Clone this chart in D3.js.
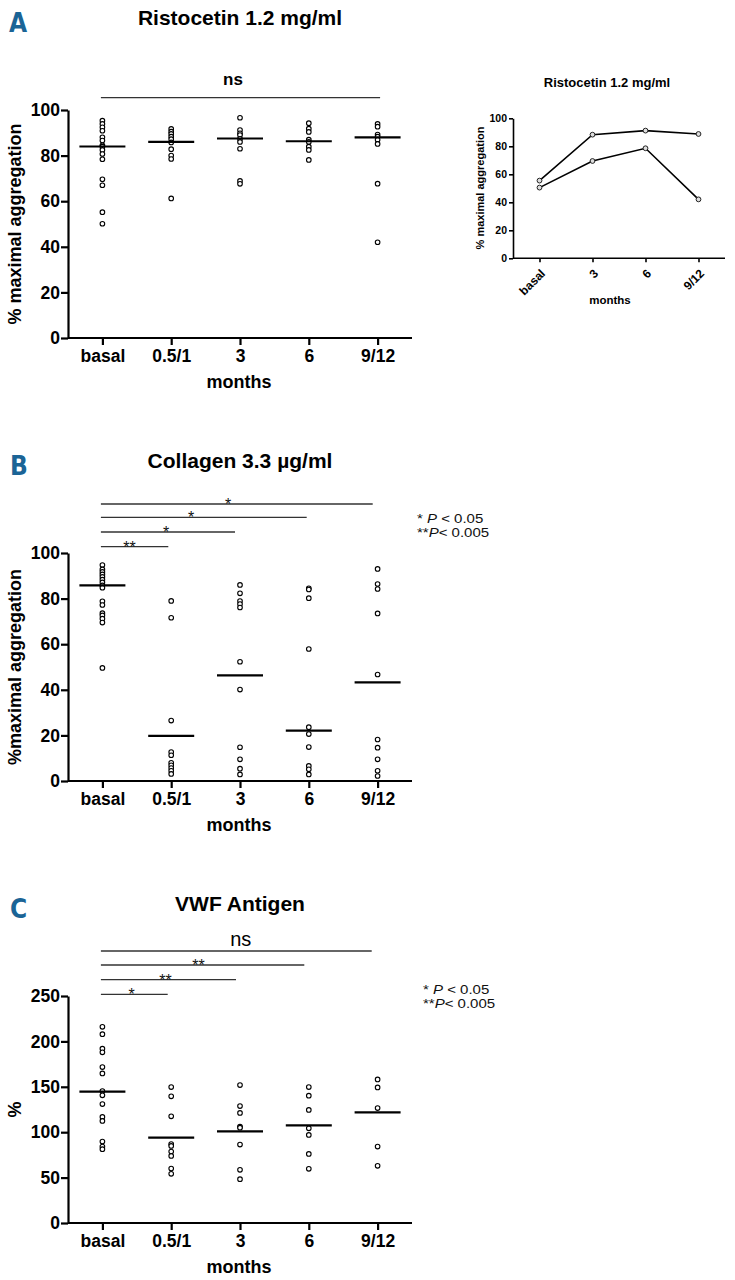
<!DOCTYPE html>
<html>
<head>
<meta charset="utf-8">
<script src="https://cdn.jsdelivr.net/npm/d3@7"></script>
<style>
  body { margin: 0; background: #fff; }
  svg { display: block; }
  text { font-family: "Liberation Sans", Arial, sans-serif; fill: #000; }
</style>
</head>
<body>
<div id="chart"></div>
<script>
// ---- data ----
var months = ["basal", "0.5/1", "3", "6", "9/12"];

// A: Ristocetin 1.2 mg/ml (% maximal aggregation)
var ristoDots = [
  [95.3, 93.9, 92.4, 90.9, 88, 86.6, 84.5, 83.9, 82.5, 80.7, 78.4, 69.6, 67, 55.2, 50.1],
  [91.7, 90.5, 89.5, 88.3, 87.2, 85.8, 82.8, 80, 78.5, 61.2],
  [96.6, 91.2, 89.8, 89, 87.4, 86, 83, 68.9, 67.6],
  [94.2, 91.8, 90.4, 87, 86, 83.9, 82.5, 78.1],
  [93.9, 92.7, 89.2, 88.3, 86.9, 85.1, 67.7, 42]
];
var ristoMedians = [84, 86, 87.5, 86.3, 88];

// A inset: two patients followed over time
var insetMonths = ["basal", "3", "6", "9/12"];
var insetUpper = [55.5, 88.3, 91.2, 88.8];
var insetLower = [50.5, 69.5, 78.6, 42.1];

// B: Collagen 3.3 µg/ml
var collDots = [
  [94.7, 92.8, 91.7, 90.6, 89.5, 88.3, 87.1, 85.8, 84.8, 78.8, 77.2, 73.6, 72.6, 71.2, 69.5, 49.6],
  [79, 71.6, 26.5, 12.7, 11.3, 8, 6.9, 5.7, 4.5, 3.1],
  [86, 82.3, 78.9, 77.6, 76.1, 52.3, 40.1, 14.8, 9.5, 5.4, 2.9],
  [84.5, 84, 80.2, 57.9, 23.6, 20.6, 14.9, 6.6, 5.1, 2.9],
  [93, 86.4, 84.2, 73.5, 46.7, 18.2, 14.6, 9.5, 4.5, 2.2]
];
var collMedians = [85.8, 19.8, 46.3, 22.1, 43.3];

// C: VWF Antigen (%)
var vwfDots = [
  [216, 208, 192, 188, 171.7, 164.7, 145.3, 140.6, 131, 116.8, 112.4, 89.7, 84.2, 81.3],
  [149.7, 139.5, 117.5, 87, 84.9, 78.7, 73.9, 60, 54.2],
  [151.9, 128.8, 121.2, 106.1, 105, 86.4, 58.6, 48.3],
  [149.7, 140.2, 124.5, 104.3, 97, 76.1, 59.7],
  [158.1, 149.3, 126.6, 84.2, 63]
];
var vwfMedians = [144.6, 94, 101, 107.6, 121.9];

// significance brackets: basal vs. months[i+1]
var ristoSig = ["", "", "", "ns"];
var collSig = ["**", "*", "*", "*"];
var vwfSig = ["*", "**", "**", "ns"];

var ticks100 = [0, 20, 40, 60, 80, 100];
var ticks250 = [0, 50, 100, 150, 200, 250];

// ---- drawing ----
var svg = d3.select("#chart").append("svg")
    .attr("width", 735)
    .attr("height", 1280);

function panelLetter(letter, x, y) {
  svg.append("text")
      .attr("x", x).attr("y", y)
      .style("font-family", "'Liberation Sans Narrow', 'DejaVu Sans Condensed', sans-serif")
      .style("font-weight", "bold")
      .style("font-size", "26px")
      .style("fill", "#1b6496")
      .text(letter);
}

function dotPanel(opt) {
  var x = d3.scalePoint().domain(months).range([68, 412]).padding(0.5);
  var y = d3.scaleLinear().domain(opt.domain).range([opt.bottom, opt.top]);
  var g = svg.append("g");

  // title
  g.append("text")
      .attr("x", 240).attr("y", opt.titleY)
      .attr("text-anchor", "middle")
      .style("font-weight", "bold").style("font-size", "21px")
      .text(opt.title);

  // axes
  var yAxis = g.append("g")
      .attr("transform", "translate(68,0)")
      .call(d3.axisLeft(y).tickValues(opt.ticks).tickSize(7).tickSizeOuter(0).tickPadding(1));
  var xAxis = g.append("g")
      .attr("transform", "translate(0," + opt.bottom + ")")
      .call(d3.axisBottom(x).tickSize(7).tickSizeOuter(0).tickPadding(5));
  [yAxis, xAxis].forEach(function(a) {
    a.selectAll("path, line").attr("stroke", "#000").attr("stroke-width", 2.2);
    a.selectAll("text").style("font-size", "17.5px").style("font-weight", "bold")
        .style("font-family", "'Liberation Sans', Arial, sans-serif").attr("fill", "#000");
  });
  xAxis.select(".domain").attr("d", "M68,0H412");

  // axis titles
  g.append("text")
      .attr("transform", "translate(21," + ((opt.top + opt.bottom) / 2) + ") rotate(-90)")
      .attr("text-anchor", "middle")
      .style("font-weight", "bold").style("font-size", "18px")
      .text(opt.yLabel);
  g.append("text")
      .attr("x", 239).attr("y", opt.bottom + 50)
      .attr("text-anchor", "middle")
      .style("font-weight", "bold").style("font-size", "18px")
      .text("months");

  // dots
  opt.dots.forEach(function(vals, i) {
    g.selectAll(null)
        .data(vals)
        .enter().append("circle")
        .attr("cx", x(months[i]))
        .attr("cy", function(d) { return y(d); })
        .attr("r", 2.3)
        .attr("fill", "#fff")
        .attr("stroke", "#000")
        .attr("stroke-width", 1.1);
  });

  // median bars
  g.selectAll(null)
      .data(opt.medians)
      .enter().append("line")
      .attr("x1", function(d, i) { return x(months[i]) - 23; })
      .attr("x2", function(d, i) { return x(months[i]) + 23; })
      .attr("y1", function(d) { return y(d); })
      .attr("y2", function(d) { return y(d); })
      .attr("stroke", "#000")
      .attr("stroke-width", 2.2);

  // significance brackets
  opt.sig.forEach(function(lab, i) {
    if (!lab) return;
    var ly = opt.top - opt.sigOffset[i];
    g.append("line")
        .attr("x1", x(months[0]) - 1.5)
        .attr("x2", x(months[i + 1]) + opt.sigEnd[i])
        .attr("y1", ly).attr("y2", ly)
        .attr("stroke", "#333").attr("stroke-width", 1.3);
    var t = g.append("text")
        .attr("x", opt.sigLabelX[i])
        .attr("text-anchor", "middle")
        .text(lab);
    if (lab === "ns") {
      t.attr("y", ly - opt.nsGap)
          .style("font-size", opt.nsBold ? "17px" : "20px")
          .style("font-weight", opt.nsBold ? "bold" : "normal");
    } else {
      t.attr("y", ly + 6).style("font-size", "16px").style("fill", "#111");
    }
  });

  // legend for stars (glyphs in the figure are horizontally stretched)
  if (opt.legendX) {
    var l1 = g.append("text")
        .attr("transform", "translate(" + opt.legendX + "," + opt.legendY + ") scale(1.25,1)")
        .style("font-size", "12px").style("fill", "#111");
    l1.append("tspan").text("* ");
    l1.append("tspan").style("font-style", "italic").text("P");
    l1.append("tspan").text(" < 0.05");
    var l2 = g.append("text")
        .attr("transform", "translate(" + opt.legendX + "," + (opt.legendY + 14) + ") scale(1.25,1)")
        .style("font-size", "12px").style("fill", "#111");
    l2.append("tspan").text("**");
    l2.append("tspan").style("font-style", "italic").text("P");
    l2.append("tspan").text("< 0.005");
  }
}

// Panel A
panelLetter("A", 9, 32);
dotPanel({
  title: "Ristocetin 1.2 mg/ml", titleY: 25,
  top: 110, bottom: 338, domain: [0, 100], ticks: ticks100,
  yLabel: "% maximal aggregation",
  dots: ristoDots, medians: ristoMedians,
  sig: ristoSig, sigOffset: [0, 0, 0, 12.3], sigEnd: [0, 0, 0, 2.5],
  sigLabelX: [0, 0, 0, 233], nsGap: 12.7, nsBold: true
});

// Panel B
panelLetter("B", 10, 475);
dotPanel({
  title: "Collagen 3.3 \u00b5g/ml", titleY: 468,
  top: 553, bottom: 781, domain: [0, 100], ticks: ticks100,
  yLabel: "%maximal aggregation",
  dots: collDots, medians: collMedians,
  sig: collSig, sigOffset: [6.3, 21, 35.7, 49], sigEnd: [-2.9, -5, -2.1, -4.9],
  sigLabelX: [129.5, 166, 191, 228],
  legendX: 417, legendY: 523.3
});

// Panel C
panelLetter("C", 10, 918);
dotPanel({
  title: "VWF Antigen", titleY: 911,
  top: 996, bottom: 1223, domain: [0, 250], ticks: ticks250,
  yLabel: "%",
  dots: vwfDots, medians: vwfMedians,
  sig: vwfSig, sigOffset: [1.7, 16.3, 31, 45], sigEnd: [-3.5, -4, -4.5, -5.9],
  sigLabelX: [131.7, 165.5, 198.5, 240.7], nsGap: 5.3, nsBold: false,
  legendX: 423, legendY: 993.5
});

// Inset (panel A, right)
(function() {
  var x = d3.scalePoint().domain(insetMonths).range([513, 725]).padding(0.5);
  var y = d3.scaleLinear().domain([0, 100]).range([258.3, 118.3]);
  var g = svg.append("g");

  g.append("text")
      .attr("x", 607).attr("y", 86.5)
      .attr("text-anchor", "middle")
      .style("font-weight", "bold").style("font-size", "13px")
      .text("Ristocetin 1.2 mg/ml");

  var yAxis = g.append("g")
      .attr("transform", "translate(513,0)")
      .call(d3.axisLeft(y).tickValues(ticks100).tickSize(4).tickSizeOuter(0).tickPadding(2));
  var xAxis = g.append("g")
      .attr("transform", "translate(0,258.3)")
      .call(d3.axisBottom(x).tickSize(4).tickSizeOuter(0).tickPadding(3));
  [yAxis, xAxis].forEach(function(a) {
    a.selectAll("path, line").attr("stroke", "#000").attr("stroke-width", 1.6);
    a.selectAll("text").style("font-size", "10.5px").style("font-weight", "bold")
        .style("font-family", "'Liberation Sans', Arial, sans-serif").attr("fill", "#000");
  });
  xAxis.select(".domain").attr("d", "M513,0H725");
  xAxis.selectAll(".tick text")
      .attr("x", 0).attr("y", 0)
      .attr("text-anchor", "end")
      .attr("dy", "0.35em")
      .style("font-size", "12px")
      .attr("transform", "translate(3,13) rotate(-45)");

  g.append("text")
      .attr("transform", "translate(484,188) rotate(-90)")
      .attr("text-anchor", "middle")
      .style("font-weight", "bold").style("font-size", "11px")
      .text("% maximal aggregation");
  g.append("text")
      .attr("x", 610).attr("y", 304)
      .attr("text-anchor", "middle")
      .style("font-weight", "bold").style("font-size", "11.5px")
      .text("months");

  var line = d3.line()
      .x(function(d, i) { return x(insetMonths[i]); })
      .y(function(d) { return y(d); });

  [insetUpper, insetLower].forEach(function(series) {
    g.append("path")
        .attr("d", line(series))
        .attr("fill", "none")
        .attr("stroke", "#000")
        .attr("stroke-width", 1.6);
    g.selectAll(null)
        .data(series)
        .enter().append("circle")
        .attr("cx", function(d, i) { return x(insetMonths[i]); })
        .attr("cy", function(d) { return y(d); })
        .attr("r", 2.4)
        .attr("fill", "#ddd")
        .attr("stroke", "#222")
        .attr("stroke-width", 1);
  });
})();
</script>
</body>
</html>
